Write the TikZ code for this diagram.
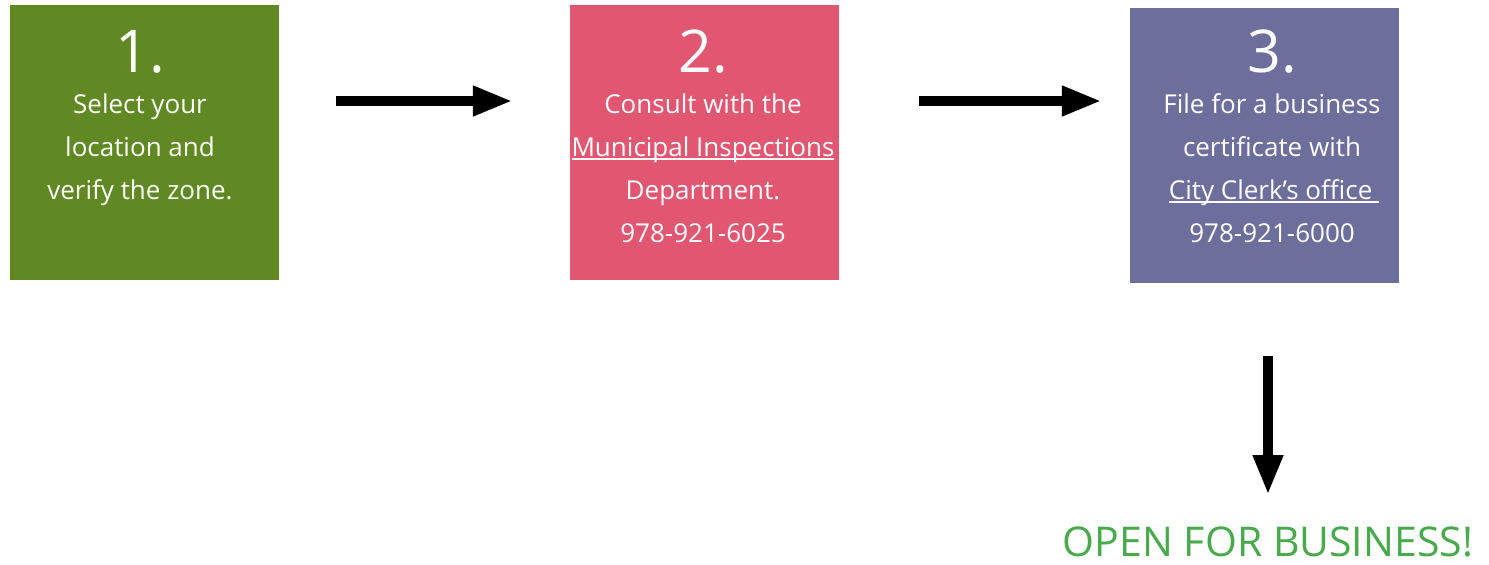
\documentclass[tikz,border=0pt]{standalone}
\usepackage{fontspec}
\setmainfont{Open Sans}
\usetikzlibrary{arrows.meta}
\definecolor{boxgreen}{RGB}{96,137,35}
\definecolor{boxpink}{RGB}{225,87,113}
\definecolor{boxpurple}{RGB}{108,110,155}
\definecolor{opengreen}{RGB}{72,170,76}
\newcommand\myul[1]{\setbox0\hbox{#1}\rlap{\rule[-3.5pt]{\wd0}{1.5pt}}\box0}
\tikzset{
  stepbox/.style={draw=none, minimum width=269pt, minimum height=275pt, inner sep=0pt},
  numtext/.style={text=white, anchor=base, inner sep=0pt, font=\fontsize{59}{59}\selectfont},
  bodytext/.style={text=white, anchor=base, inner sep=0pt, font=\fontsize{26}{30}\selectfont},
  bigarrow/.style={line width=10pt, -{Triangle[length=40pt,width=28pt]}},
  opentext/.style={text=opengreen, anchor=base, inner sep=0pt, font=\fontsize{41}{43}\selectfont}
}
\begin{document}
\begin{tikzpicture}[x=1pt,y=-1pt]
\useasboundingbox (0,0) rectangle (1489,565);
% boxes
\node[stepbox, fill=boxgreen] (b1) at (144.5,142.5) {};
\node[stepbox, fill=boxpink] (b2) at (704.5,142.5) {};
\node[stepbox, fill=boxpurple] (b3) at (1264.5,145.5) {};
% box 1
\node[numtext] (n1) at (140,72) {1.};
\foreach [count=\i] \t in {Select your, location and, verify the zone.}
  \node[bodytext] (t1-\i) at (140,{113+43*(\i-1)}) {\t};
% box 2
\node[numtext] (n2) at (703,72) {2.};
\node[bodytext] (t2-1) at (703,113) {Consult with the};
\node[bodytext] (t2-2) at (703,156) {\myul{Municipal Inspections}};
\node[bodytext] (t2-3) at (703,199) {Department.};
\node[bodytext] (t2-4) at (703,242) {978-921-6025};
% box 3
\node[numtext] (n3) at (1272,72) {3.};
\node[bodytext] (t3-1) at (1272,113) {File for a business};
\node[bodytext] (t3-2) at (1272,156) {certificate with};
\node[bodytext] (t3-3) at (1274,199) {\myul{City Clerk’s office\ }};
\node[bodytext] (t3-4) at (1272,242) {978-921-6000};
% final text
\node[opentext] (open) at (1268,556) {OPEN FOR BUSINESS!};
% arrows
\draw[bigarrow] ([xshift=57pt,yshift=41.5pt]b1.east) -- ([xshift=-57pt,yshift=41.5pt]b2.west);
\draw[bigarrow] ([xshift=80pt,yshift=41.5pt]b2.east) -- ([xshift=-28pt,yshift=44.5pt]b3.west);
\draw[bigarrow] ([xshift=3.5pt,yshift=-73pt]b3.south) -- ([yshift=61pt]open.base);
\end{tikzpicture}
\end{document}
